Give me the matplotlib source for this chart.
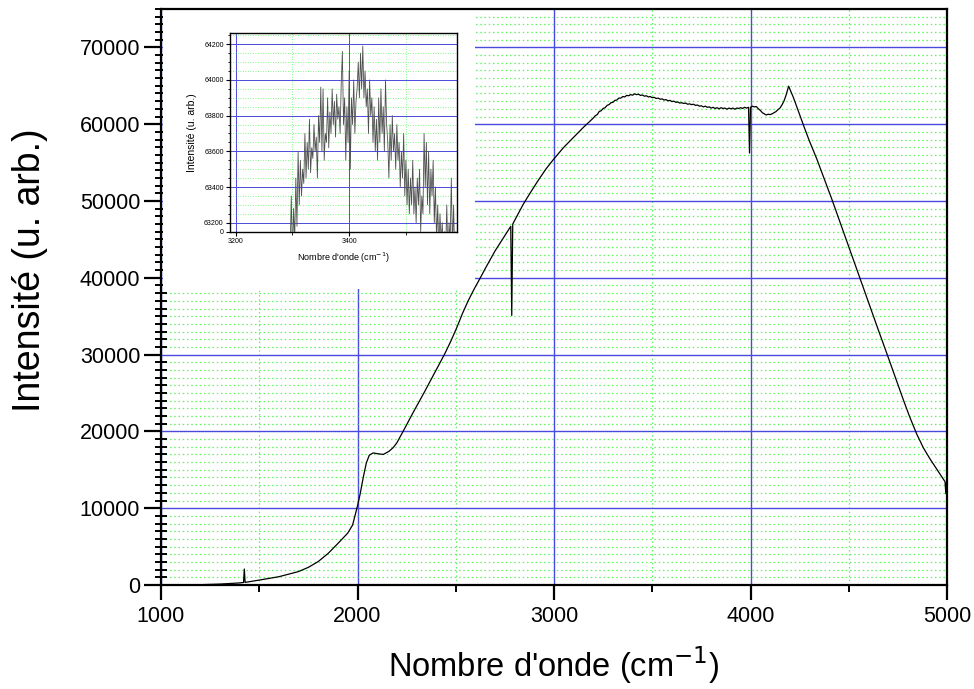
import numpy as np
import matplotlib
matplotlib.use("Agg")
import matplotlib.pyplot as plt
from matplotlib.ticker import MultipleLocator, FixedLocator
from matplotlib.patches import Rectangle

plt.rcParams['font.family'] = ['Liberation Sans', 'DejaVu Sans']

# ---------------- main spectrum ----------------
wavenumber = [1000, 1100, 1200, 1300, 1400, 1420, 1424, 1428, 1500, 1600, 1700, 1750,
              1800, 1850, 1900, 1950, 1975, 1990, 2000, 2013, 2030, 2045, 2060, 2080,
              2100, 2131, 2160, 2182, 2200, 2232, 2284, 2340, 2386, 2420,
              2445, 2475, 2505, 2535, 2564, 2595, 2623, 2650, 2700, 2750, 2780, 2785,
              2790, 2844, 2880, 2920, 2960, 3000, 3050, 3100, 3150,
              3200, 3210, 3220, 3230, 3240, 3250, 3260, 3270, 3280, 3290,
              3300, 3310, 3320, 3330, 3340, 3350, 3360, 3370, 3380, 3390,
              3400, 3410, 3420, 3430, 3440, 3450, 3460, 3470, 3480, 3490,
              3500, 3510, 3520, 3530, 3540, 3550, 3560, 3570, 3580, 3590,
              3600, 3610, 3620, 3630, 3640, 3650, 3660, 3670, 3680, 3690,
              3700, 3710, 3720, 3730, 3740, 3750, 3760, 3770, 3780, 3790,
              3800, 3810, 3820, 3830, 3840, 3850, 3860, 3870, 3880, 3890,
              3900, 3910, 3920, 3930, 3940, 3950, 3960, 3970, 3980, 3990,
              3995, 4000, 4010, 4020, 4030, 4040, 4050, 4060, 4070, 4080, 4090,
              4100, 4110, 4120, 4130, 4140, 4150, 4160, 4170, 4180, 4194,
              4218, 4245, 4272, 4300, 4337, 4375, 4413, 4450, 4500, 4550, 4600,
              4650, 4700, 4750, 4778, 4810, 4846, 4880, 4914, 4950, 4990, 4994,
              4997, 5000]
intensity = [0, 10, 40, 120, 270, 330, 2080, 340, 640, 1080, 1750, 2300,
             3050, 4100, 5400, 6750, 7800, 9300, 10300, 11800, 14100, 15900, 16900, 17200,
             17100, 17000, 17400, 17900, 18500, 20000, 22500, 25100, 27300, 28900,
             30150, 31750, 33500, 35400, 37050, 38600, 39900, 41200, 43500, 45500, 46700, 35100,
             47000, 49600, 51100, 52700, 54200, 55500, 57000, 58300, 59600,
             60800, 61100, 61250, 61650, 61750, 62050, 62150, 62450, 62550, 62800,
             62850, 63100, 63150, 63400, 63400, 63600, 63550, 63750, 63700, 63850,
             63780, 63950, 63850, 63900, 63750, 63800, 63650, 63700, 63550, 63600,
             63450, 63500, 63350, 63400, 63250, 63300, 63150, 63200, 63050, 63100,
             62950, 63000, 62850, 62900, 62750, 62800, 62700, 62750, 62600, 62650,
             62550, 62600, 62450, 62500, 62350, 62400, 62250, 62350, 62200, 62250,
             62100, 62200, 62050, 62150, 62000, 62150, 62050, 62100, 61950, 62100,
             62000, 62100, 61950, 62100, 62050, 62150, 62050, 62200, 62100, 62200,
             56250, 62200, 62350, 62250, 62300, 62000, 61800, 61500, 61350, 61200, 61300,
             61250, 61350, 61500, 61650, 61900, 62100, 62500, 63000, 63700, 64950,
             63500, 61600, 59700, 57800, 55500, 52900, 50300, 47650, 44050, 40450, 36850,
             33250, 29700, 26100, 24100, 21900, 19650, 17850, 16400, 15000, 13450, 11900,
             13300, 13100]

# ---------------- inset (zoom 3296-3590 cm-1, step 2) ----------------
inset_start, inset_step = 3296, 2
inset_intensity = [
    63050, 63350, 63000, 63280, 63100, 63450, 63180, 63600, 63300, 63550,
    63350, 63500, 63420, 63700, 63450, 63650, 63500, 63780, 63480, 63620,
    63560, 63750, 63600, 63680, 63450, 63800, 63650, 63960, 63600, 63950,
    63550, 63700, 63650, 63900, 63620, 63820, 63700, 63950, 63750, 63880,
    63680, 63920, 63780, 63850, 63700, 63980, 64160, 63750, 63900, 63550,
    63850, 63650, 64050, 63500, 63900, 63750, 64000, 63700, 63880, 63950,
    64100, 63900, 64150, 63950, 64190, 63900, 64050, 63850, 63950, 63700,
    64000, 63800, 63900, 63650, 63850, 63600, 63780, 63550, 63900, 63650,
    63950, 63700, 63850, 63600, 64000, 63750, 63650, 63450, 63750, 63550,
    63800, 63600, 63700, 63500, 63750, 63550, 63650, 63400, 63600, 63450,
    63700, 63350, 63550, 63300, 63500, 63250, 63450, 63300, 63550, 63250,
    63400, 63200, 63450, 63300, 63500, 63150, 63350, 63250, 63700, 63400,
    63650, 63300, 63600, 63250, 63500, 63350, 63550, 63200, 63400, 63100,
    63300, 63050, 63250, 63100, 63200, 63000, 63150, 63050, 63300, 63000,
    63200, 63100, 63450, 63050, 63300, 63000, 63150, 63000]
inset_wavenumber = inset_start + inset_step * np.arange(len(inset_intensity))

main_ticks_x = [1000, 2000, 3000, 4000, 5000]
main_ticks_y = [0, 10000, 20000, 30000, 40000, 50000, 60000, 70000]
inset_ticks_y = [63200, 63400, 63600, 63800, 64000, 64200]

BLUE = '#4a4ae0'
GREEN = '#5cf55c'

fig = plt.figure(figsize=(9.74, 6.89), dpi=100)
ax = fig.add_axes([161/974, 1-585/689, (947-161)/974, (585-9)/689])

ax.plot(wavenumber, intensity, color='black', lw=0.9, zorder=3)
ax.set_xlim(1000, 5000)
ax.set_ylim(0, 75000)
ax.set_xticks(main_ticks_x)
ax.set_yticks(main_ticks_y)
ax.xaxis.set_minor_locator(MultipleLocator(500))
ax.yaxis.set_minor_locator(MultipleLocator(1000))
ax.grid(which='major', color=BLUE, lw=1.0, ls='-')
ax.grid(which='minor', color=GREEN, lw=0.9, ls=(0, (1.2, 2.2)))
for s in ax.spines.values():
    s.set_linewidth(1.6)
ax.tick_params(axis='x', which='major', direction='out', length=11, width=1.6, labelsize=15.5, pad=4)
ax.tick_params(axis='x', which='minor', direction='out', length=5, width=1.4)
ax.tick_params(axis='y', which='major', direction='out', length=12, width=1.6, labelsize=15.5, pad=3)
ax.tick_params(axis='y', which='minor', direction='inout', length=9, width=1.4)
ax.set_xlabel("Nombre d'onde (cm$^{-1}$)", fontsize=23.5)
ax.set_ylabel("Intensité (u. arb.)", fontsize=27)
ax.xaxis.set_label_coords((554 - 161) / 786, -(665 - 585) / 576)
ax.yaxis.set_label_coords(-(161 - 30) / 786, (585 - 270) / 576)
ax.xaxis.label.set_va('center')
ax.yaxis.label.set_va('center')

# blank area behind the inset
ax.add_patch(Rectangle((1012, 38500), 2598 - 1012, 80000, facecolor='white',
                       edgecolor='none', zorder=1.6))

# ---------------- inset ----------------
ins = fig.add_axes([230/974, 1-232/689, 227/974, 199/689])
ins.plot(inset_wavenumber, inset_intensity, color='#505050', lw=0.6, zorder=3)
ins.set_xlim(3190, 3590)
ins.set_ylim(63148, 64263)
ins.set_xticks([3200, 3400])
ins.xaxis.set_minor_locator(MultipleLocator(100))
ins.yaxis.set_major_locator(FixedLocator([63148] + inset_ticks_y))
ins.set_yticklabels(['0'] + [str(v) for v in inset_ticks_y])
ins.yaxis.set_minor_locator(MultipleLocator(50))
ins.grid(which='major', color=BLUE, lw=0.7)
ins.grid(which='minor', color=GREEN, lw=0.6, ls=(0, (1, 2)))
for s in ins.spines.values():
    s.set_linewidth(1.0)
ins.tick_params(which='major', direction='out', length=3, width=0.8, labelsize=5, pad=1.5)
ins.tick_params(which='minor', direction='out', length=1.8, width=0.6)
ins.set_xlabel("Nombre d'onde (cm$^{-1}$)", fontsize=6.5, labelpad=4)
ins.set_ylabel("Intensité (u. arb.)", fontsize=7.5, labelpad=5)

fig.savefig('out.png', dpi=100)
